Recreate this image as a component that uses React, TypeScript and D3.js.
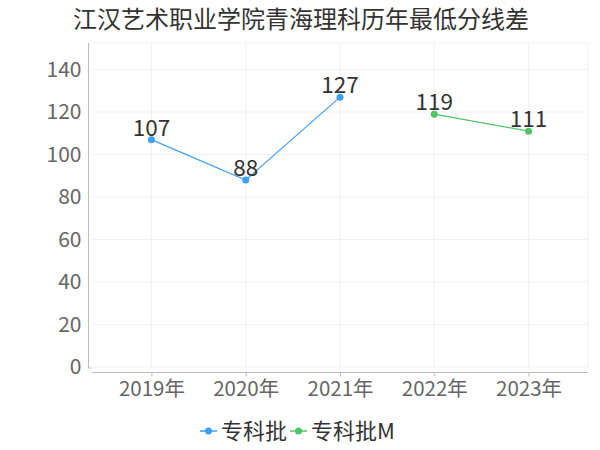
import React, { useEffect, useRef } from 'react';
import * as d3 from 'd3';

const years = ['2019年', '2020年', '2021年', '2022年', '2023年'];
const yTicks = [0, 20, 40, 60, 80, 100, 120, 140];
const seriesNames = ['专科批', '专科批M'];
const seriesColors = ['#3fa0f7', '#4fc563'];
// null = no score that year
const zhuanke = [107, 88, 127, null, null];
const zhuankeM = [null, null, null, 119, 111];

const title = '江汉艺术职业学院青海理科历年最低分线差';
const FONT = '"Noto Sans CJK SC", "Noto Sans", sans-serif';

const App = () => {
  const ref = useRef<SVGSVGElement>(null);

  useEffect(() => {
    const svg = d3.select(ref.current);
    svg.selectAll('*').remove();

    const left = 92, right = 588, top = 43, bottom = 367;

    const x = d3.scalePoint<string>().domain(years).range([left, right]).padding(0.63);
    const y = d3.scaleLinear().domain([0, 140]).range([bottom, 69.5]);

    svg.append('text')
      .attr('x', 301).attr('y', 28)
      .attr('text-anchor', 'middle')
      .attr('font-size', 24).attr('fill', '#333')
      .text(title);

    // grid
    const grid = svg.append('g').attr('stroke', '#f1f1f1').attr('stroke-width', 1);
    yTicks.forEach(t => {
      grid.append('line').attr('x1', left).attr('x2', right).attr('y1', y(t)).attr('y2', y(t));
    });
    grid.append('line').attr('x1', left).attr('x2', right).attr('y1', top).attr('y2', top);
    years.forEach(c => {
      grid.append('line').attr('x1', x(c)!).attr('x2', x(c)!).attr('y1', top).attr('y2', bottom);
    });
    grid.append('line').attr('x1', right).attr('x2', right).attr('y1', top).attr('y2', bottom);

    // y axis
    svg.append('g')
      .attr('transform', 'translate(88.5,0)')
      .call(d3.axisLeft(y).tickValues(yTicks).tickSize(0).tickPadding(7))
      .call(g => g.select('.domain').attr('stroke', '#bbb').attr('d', `M0,${top}V${bottom + 1}h3`))
      .call(g => g.selectAll('.tick text').attr('font-size', 21).attr('fill', '#666').attr('font-family', FONT));

    // x axis
    svg.append('g')
      .attr('transform', 'translate(0,372.5)')
      .call(d3.axisBottom(x).tickSize(4).tickSizeOuter(0).tickPadding(5))
      .call(g => g.select('.domain').attr('stroke', '#bbb').attr('d', `M${left},0H${right}`))
      .call(g => g.selectAll('.tick line').attr('stroke', '#bbb'))
      .call(g => g.selectAll('.tick text').attr('font-size', 20.5).attr('fill', '#666').attr('font-family', FONT));

    const all = [zhuanke, zhuankeM];
    all.forEach((vals, i) => {
      const pts = vals.map((v, j) => ({ c: years[j], v })).filter(d => d.v !== null) as { c: string; v: number }[];
      const line = d3.line<{ c: string; v: number }>().x(d => x(d.c)!).y(d => y(d.v));
      svg.append('path').datum(pts)
        .attr('fill', 'none').attr('stroke', seriesColors[i]).attr('stroke-width', 1.2)
        .attr('d', line);
      svg.append('g').selectAll('circle').data(pts).join('circle')
        .attr('cx', d => x(d.c)!).attr('cy', d => y(d.v)).attr('r', 3.5)
        .attr('fill', seriesColors[i]);
      svg.append('g').selectAll('text').data(pts).join('text')
        .attr('x', d => x(d.c)!).attr('y', d => y(d.v) - 4)
        .attr('text-anchor', 'middle')
        .attr('font-size', 22.5).attr('fill', '#333')
        .text(d => d.v);
    });

    // legend
    const legend = svg.append('g').attr('transform', 'translate(0,431)');
    const legendX = [200, 290];
    seriesNames.forEach((name, i) => {
      const g = legend.append('g').attr('transform', `translate(${legendX[i]},0)`);
      g.append('line').attr('x1', 0).attr('x2', 17).attr('stroke', seriesColors[i]).attr('stroke-width', 1.5);
      g.append('circle').attr('cx', 8.5).attr('r', 3.5).attr('fill', seriesColors[i]);
      g.append('text').attr('x', 21).attr('y', 8)
        .attr('font-size', 22).attr('fill', '#333').text(name);
    });
  }, []);

  return (
    <svg ref={ref} width={600} height={450}
      style={{ position: 'absolute', left: 0, top: 0, fontFamily: FONT, background: '#fff' }} />
  );
};

export default App;
